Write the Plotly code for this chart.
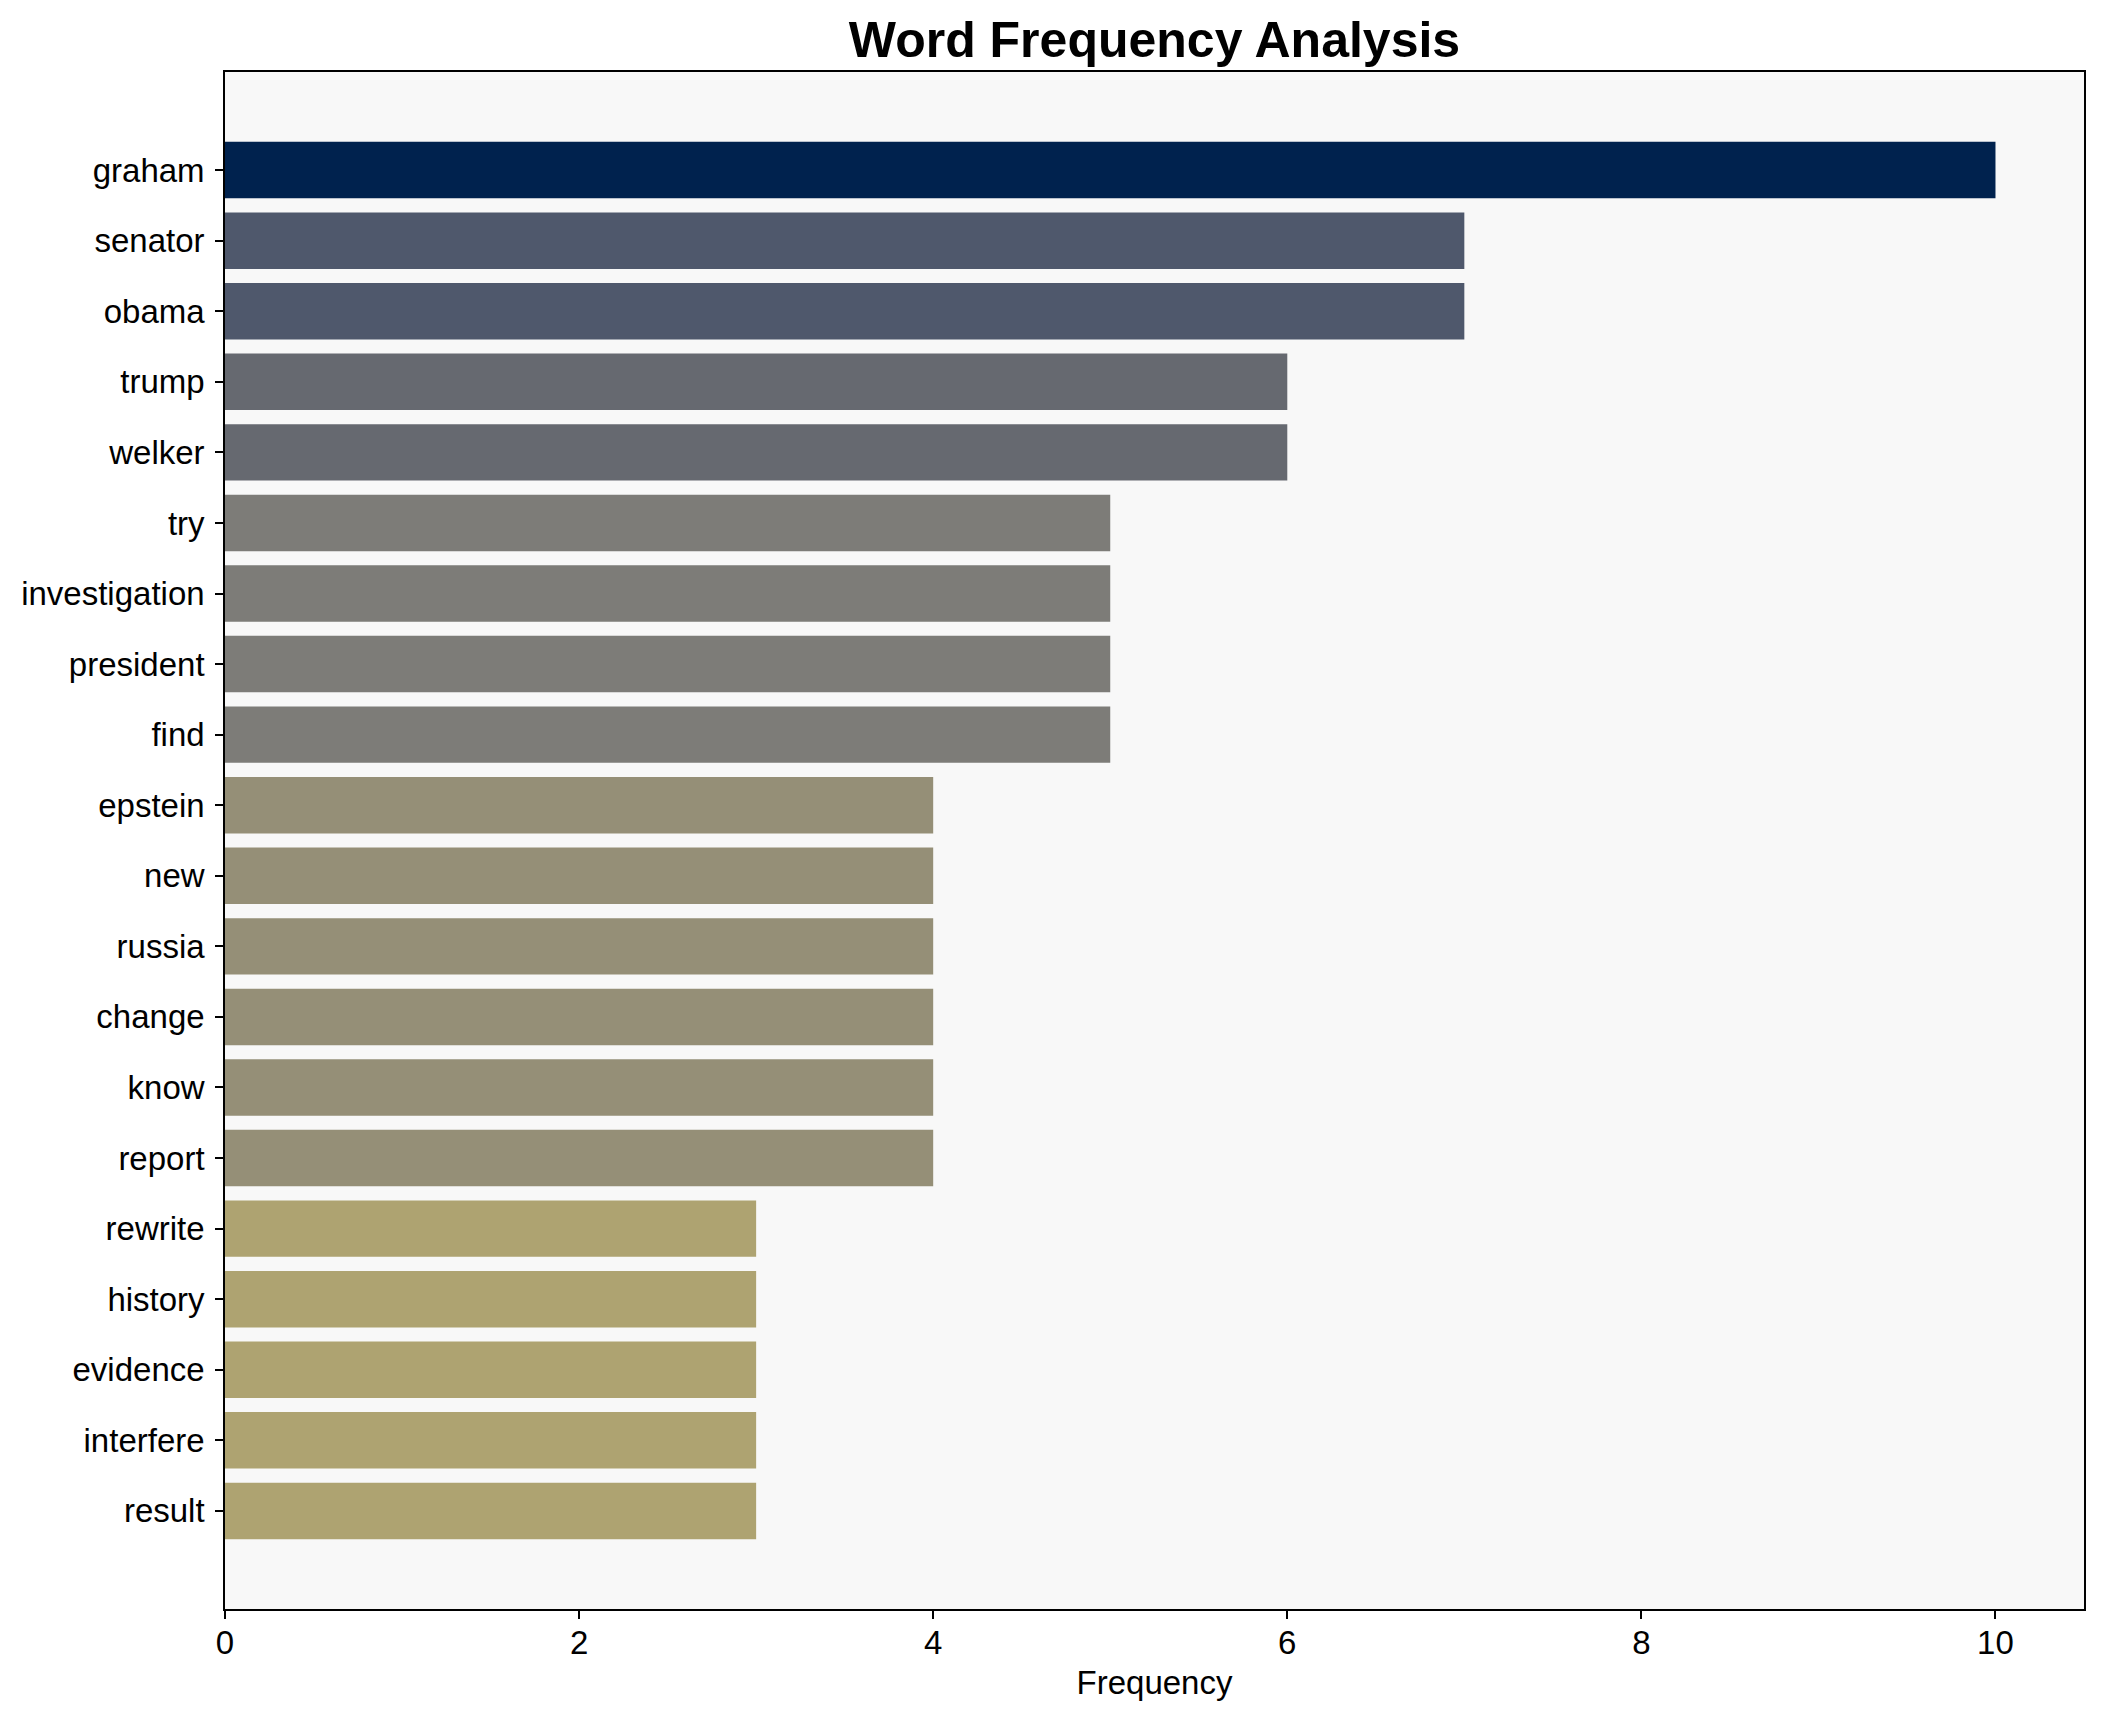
import plotly.graph_objects as go

words = ["graham", "senator", "obama", "trump", "welker", "try", "investigation",
         "president", "find", "epstein", "new", "russia", "change", "know", "report",
         "rewrite", "history", "evidence", "interfere", "result"]
freqs = [10, 7, 7, 6, 6, 5, 5, 5, 5, 4, 4, 4, 4, 4, 4, 3, 3, 3, 3, 3]

color_by_value = {10: "#00224e", 7: "#4f586c", 6: "#666970", 5: "#7d7c78",
                  4: "#958f77", 3: "#aea371"}
colors = [color_by_value[v] for v in freqs]

fig = go.Figure(go.Bar(
    x=freqs, y=words, orientation="h",
    marker=dict(color=colors, line=dict(width=0)),
))

FONT = "Liberation Sans, Arial, sans-serif"
L, R, T, B = 217, 28, 64, 121
W, H = 2104, 1722

fig.update_layout(
    width=W, height=H,
    margin=dict(l=L, r=R, t=T, b=B, autoexpand=False),
    paper_bgcolor="white",
    plot_bgcolor="#f8f8f8",
    bargap=0.2,
    showlegend=False,
    font=dict(family=FONT, size=33, color="black"),
    title=dict(text="<b>Word Frequency Analysis</b>",
               x=(L + (W - L - R) / 2) / W, xanchor="center",
               y=1 - 31 / H, yanchor="middle",
               font=dict(family=FONT, size=50, color="black")),
)

fig.update_xaxes(
    range=[0, 10.5], tickvals=[0, 2, 4, 6, 8, 10],
    showgrid=False, zeroline=False,
    showline=True, linecolor="black", linewidth=1.6, mirror=True,
    ticks="outside", ticklen=8, tickwidth=1.5, tickcolor="black",
    tickfont=dict(size=33), ticklabelstandoff=-4,
    title=dict(text="Frequency", font=dict(size=33), standoff=10),
)
fig.update_yaxes(
    type="category", categoryorder="array", categoryarray=words,
    range=[19 + 1.39, -1.39],
    showgrid=False, zeroline=False,
    showline=True, linecolor="black", linewidth=1.6, mirror=True,
    ticks="outside", ticklen=8, tickwidth=1.5, tickcolor="black",
    tickfont=dict(size=33), ticklabelstandoff=4,
)

fig.write_html("out.html")
